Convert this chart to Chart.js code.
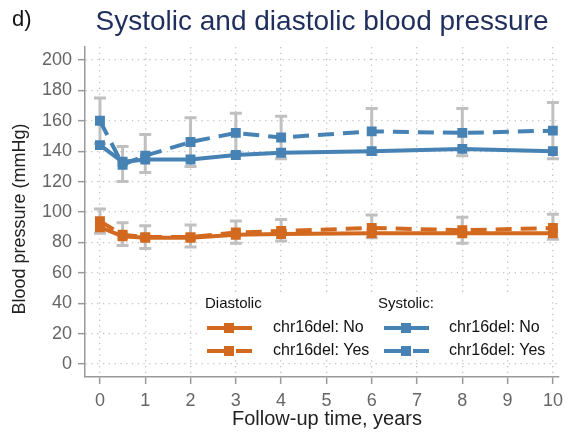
<!DOCTYPE html>
<html>
<head>
<meta charset="utf-8">
<script src="https://cdn.jsdelivr.net/npm/chart.js@4"></script>
<style>
  html, body { margin: 0; padding: 0; background: #fff; }
  #wrap { width: 569px; height: 432px; }
</style>
</head>
<body>
<div id="wrap"><canvas id="bp"></canvas></div>
<script>
// follow-up times (years)
const years = [0, 0.5, 1, 2, 3, 4, 6, 8, 10];
const xTicks = [0, 1, 2, 3, 4, 5, 6, 7, 8, 9, 10];
const yTicks = [0, 20, 40, 60, 80, 100, 120, 140, 160, 180, 200];

// systolic
const sysNo = [144, 133, 134.5, 134.5, 137.5, 139, 140, 141.5, 140];
const sysYes = [160, 131, 137, 146, 152, 149, 153, 152, 153.5];
const sysYesLow = [145, 120, 126, 130, 139, 135, 138, 137, 135];
const sysYesHigh = [175, 143, 151, 162, 165, 163, 168, 168, 172];

// diastolic
const diaNo = [90, 84, 83, 83, 85, 85.5, 86, 86, 86];
const diaYes = [94, 85, 83.5, 83.5, 86.5, 87.5, 89.5, 88, 89.5];
const diaYesLow = [86, 78, 76, 77, 79.5, 81, 83, 79.5, 82];
const diaYesHigh = [102, 93, 91, 91.5, 94, 95, 98, 96.5, 98.5];

const ORANGE = '#D2691E';
const BLUE = '#4682B4';
const FONT = '"Liberation Sans", Arial, Helvetica, sans-serif';

const pts = (ys) => years.map((x, i) => ({ x: x, y: ys[i] }));

const makeSet = (label, ys, color, dashed) => ({
    label: label,
    data: pts(ys),
    borderColor: color,
    backgroundColor: color,
    borderWidth: 4,
    borderDash: dashed ? [16, 9] : [],
    pointStyle: 'rect',
    pointRadius: 7,
    pointBorderWidth: 0,
    tension: 0
});

// grey confidence bars, drawn under the lines
const errorBars = {
    id: 'errorBars',
    beforeDatasetsDraw(chart) {
        const { ctx, scales: { x, y } } = chart;
        const groups = [[sysYesLow, sysYesHigh], [diaYesLow, diaYesHigh]];
        ctx.save();
        ctx.strokeStyle = '#C0C0C0';
        ctx.lineWidth = 3;
        ctx.setLineDash([]);
        groups.forEach(([lo, hi]) => {
            years.forEach((yr, i) => {
                const px = x.getPixelForValue(yr);
                const p1 = y.getPixelForValue(lo[i]);
                const p2 = y.getPixelForValue(hi[i]);
                ctx.beginPath();
                ctx.moveTo(px, p1); ctx.lineTo(px, p2);
                ctx.moveTo(px - 6, p1); ctx.lineTo(px + 6, p1);
                ctx.moveTo(px - 6, p2); ctx.lineTo(px + 6, p2);
                ctx.stroke();
            });
        });
        ctx.restore();
    }
};

// titles and the boxed legend
const decorations = {
    id: 'decorations',
    afterDraw(chart) {
        const ctx = chart.ctx;
        ctx.save();
        ctx.textBaseline = 'middle';

        ctx.fillStyle = '#111';
        ctx.font = '22px ' + FONT;
        ctx.textAlign = 'left';
        ctx.fillText('d)', 12, 20);

        ctx.fillStyle = '#1F2E5C';
        ctx.font = '28px ' + FONT;
        ctx.textAlign = 'center';
        ctx.fillText('Systolic and diastolic blood pressure', 322, 22);

        ctx.fillStyle = '#222';
        ctx.font = '20px ' + FONT;
        ctx.fillText('Follow-up time, years', 327, 419);

        ctx.save();
        ctx.translate(20, 219);
        ctx.rotate(-Math.PI / 2);
        ctx.font = '18px ' + FONT;
        ctx.fillText('Blood pressure (mmHg)', 0, 0);
        ctx.restore();

        // legend
        ctx.fillStyle = '#fff';
        ctx.fillRect(201, 294, 351, 66);
        ctx.fillStyle = '#111';
        ctx.textAlign = 'left';
        ctx.font = '15px ' + FONT;
        ctx.fillText('Diastolic', 205, 304);
        ctx.fillText('Systolic:', 378, 304);

        const sample = (x0, yc, color, dashed) => {
            ctx.strokeStyle = color;
            ctx.fillStyle = color;
            ctx.lineWidth = 4;
            ctx.beginPath();
            if (dashed) {
                ctx.moveTo(x0, yc); ctx.lineTo(x0 + 22, yc);
                ctx.moveTo(x0 + 29, yc); ctx.lineTo(x0 + 45, yc);
            } else {
                ctx.moveTo(x0, yc); ctx.lineTo(x0 + 45, yc);
            }
            ctx.stroke();
            ctx.fillRect(x0 + 17, yc - 5, 10, 10);
        };
        sample(207, 328, ORANGE, false);
        sample(207, 351, ORANGE, true);
        sample(384, 328, BLUE, false);
        sample(384, 351, BLUE, true);

        ctx.fillStyle = '#111';
        ctx.font = '16px ' + FONT;
        ctx.fillText('chr16del: No', 273, 328);
        ctx.fillText('chr16del: Yes', 273, 351);
        ctx.fillText('chr16del: No', 449, 328);
        ctx.fillText('chr16del: Yes', 449, 351);
        ctx.restore();
    }
};

const axisGrid = {
    color: '#C4C4C4',
    lineWidth: 1.3,
    tickColor: '#999',
    tickLength: 7,
    tickWidth: 1.5,
    tickBorderDash: []
};

new Chart(document.getElementById('bp'), {
    type: 'line',
    data: {
        datasets: [
            makeSet('Systolic chr16del: No', sysNo, BLUE, false),
            makeSet('Systolic chr16del: Yes', sysYes, BLUE, true),
            makeSet('Diastolic chr16del: No', diaNo, ORANGE, false),
            makeSet('Diastolic chr16del: Yes', diaYes, ORANGE, true)
        ]
    },
    options: {
        responsive: true,
        maintainAspectRatio: false,
        animation: false,
        devicePixelRatio: 1,
        layout: { padding: { top: 47, right: 9, left: 0, bottom: 0 } },
        plugins: {
            legend: { display: false },
            tooltip: { enabled: false }
        },
        scales: {
            x: {
                type: 'linear',
                min: -0.33,
                max: 10.12,
                afterBuildTicks: (s) => { s.ticks = xTicks.map(v => ({ value: v })); },
                afterFit: (s) => { s.height = 55; },
                border: { color: '#999', width: 1.5, dash: [1.3, 4.5] },
                grid: axisGrid,
                ticks: {
                    color: '#666',
                    padding: 6,
                    maxRotation: 0,
                    autoSkip: false,
                    font: { family: FONT, size: 18 }
                }
            },
            y: {
                type: 'linear',
                min: -8.5,
                max: 208.5,
                afterBuildTicks: (s) => { s.ticks = yTicks.map(v => ({ value: v })); },
                afterFit: (s) => { s.width = 85; },
                border: { color: '#999', width: 1.5, dash: [1.3, 4.5] },
                grid: axisGrid,
                ticks: {
                    color: '#666',
                    padding: 6,
                    autoSkip: false,
                    font: { family: FONT, size: 18 }
                }
            }
        }
    },
    plugins: [errorBars, decorations]
});
</script>
</body>
</html>
